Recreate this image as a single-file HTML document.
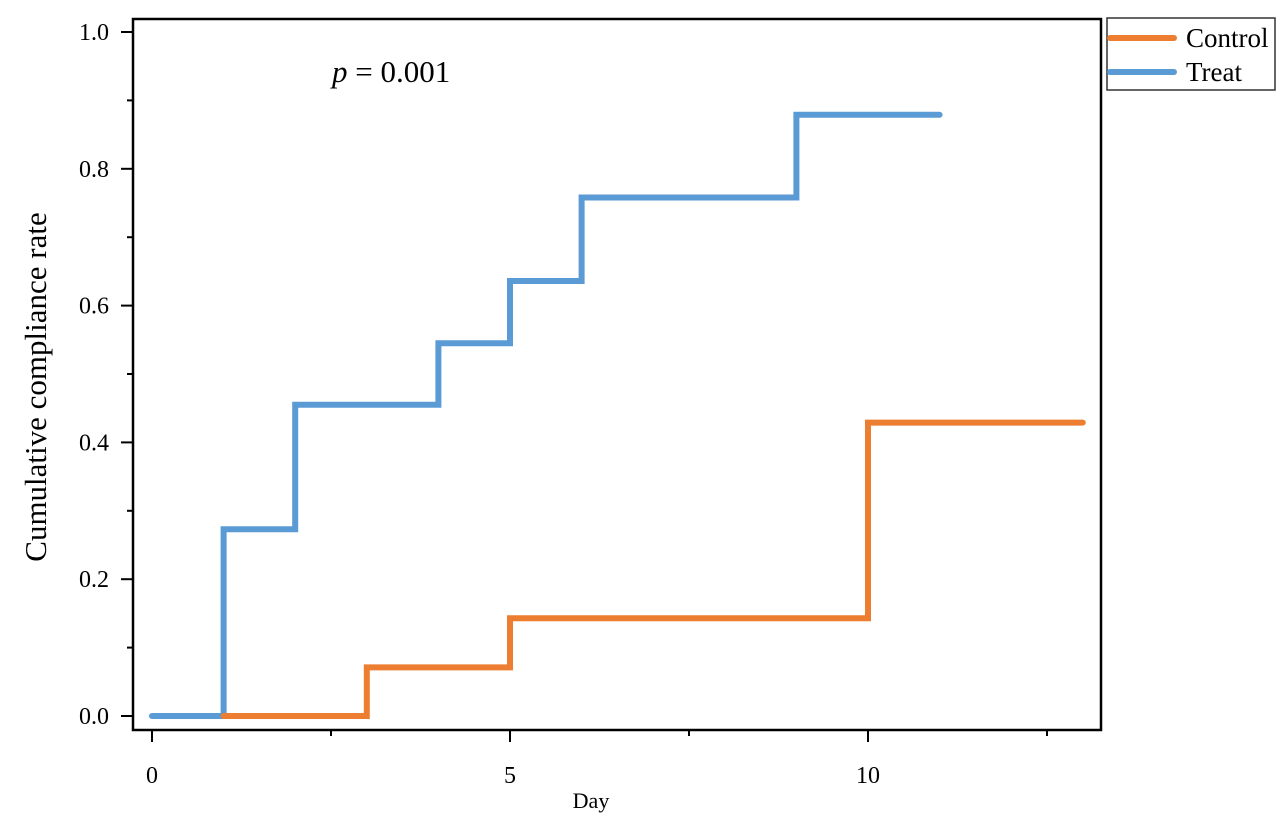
<!DOCTYPE html>
<html><head><meta charset="utf-8"><style>
body{margin:0;background:#fff}
svg{display:block;font-family:"Liberation Serif",serif}
</style></head><body>
<svg id="chart" width="1280" height="835" viewBox="0 0 1280 835">
<g id="axes"></g>
<g id="series"></g>
<text x="332" y="82" font-size="31"><tspan font-style="italic">p</tspan> = 0.001</text>
<text transform="translate(46,387) rotate(-90)" text-anchor="middle" font-size="31">Cumulative compliance rate</text>
<text x="591" y="808" text-anchor="middle" font-size="22">Day</text>
<g>
<rect x="1107" y="18" width="168" height="72" fill="#fff" stroke="#333" stroke-width="1.5"/>
<line x1="1110" y1="38" x2="1174" y2="38" stroke="#ed7d31" stroke-width="6" stroke-linecap="round"/>
<text x="1186" y="47" font-size="27">Control</text>
<line x1="1110" y1="72" x2="1174" y2="72" stroke="#5b9bd5" stroke-width="6" stroke-linecap="round"/>
<text x="1186" y="81" font-size="27">Treat</text>
</g>
</svg>
<script>
const treatDays=[0,1,2,4,5,6,9,11];
const treatValues=[0,0.273,0.455,0.545,0.636,0.758,0.879];
const controlDays=[1,3,5,10,13];
const controlValues=[0,0.071,0.143,0.429];
const xTicks=[0,5,10];
const yTicks=[0,0.2,0.4,0.6,0.8,1.0];
const yTickLabels=["0.0","0.2","0.4","0.6","0.8","1.0"];
const NS="http://www.w3.org/2000/svg";
const X=d=>152+d*71.6;
const Y=v=>716-v*684;
function mk(tag,attrs,parent){const e=document.createElementNS(NS,tag);for(const k in attrs)e.setAttribute(k,attrs[k]);parent.appendChild(e);return e;}
const ax=document.getElementById('axes');
const frame=mk('rect',{x:133,y:19,width:968,height:711,fill:'none',stroke:'#000','stroke-width':2.5},ax);


yTicks.forEach((v,i)=>{
 const t=mk('line',{x1:121,x2:133,y1:Y(v),y2:Y(v),stroke:'#000','stroke-width':2},ax);
 
 
 const l=mk('text',{x:109,y:Y(v)+8,'text-anchor':'end','font-size':24},ax);
 l.textContent=yTickLabels[i];
 
 
 if(i<yTicks.length-1){
  const m=mk('line',{x1:127,x2:133,y1:Y(v+0.1),y2:Y(v+0.1),stroke:'#000','stroke-width':2},ax);
  
  
 }
});
xTicks.forEach(d=>{
 const t=mk('line',{x1:X(d),x2:X(d),y1:730,y2:742,stroke:'#000','stroke-width':2},ax);
 
 
 const l=mk('text',{x:X(d),y:783,'text-anchor':'middle','font-size':24},ax);
 l.textContent=d;
 
 
});
[2.5,7.5,12.5].forEach(d=>{
 const m=mk('line',{x1:X(d),x2:X(d),y1:730,y2:736,stroke:'#000','stroke-width':2},ax);
 
 
});
function stepPath(days,vals){
 let d='M'+X(days[0])+','+Y(vals[0]);
 for(let i=1;i<days.length;i++){
  d+=' H'+X(days[i]);
  if(i<vals.length)d+=' V'+Y(vals[i]);
 }
 return d;
}
const sg=document.getElementById('series');
const tp=mk('path',{d:stepPath(treatDays,treatValues),fill:'none',stroke:'#5b9bd5','stroke-width':6,'stroke-linejoin':'miter','stroke-linecap':'round'},sg);


const cp=mk('path',{d:stepPath(controlDays,controlValues),fill:'none',stroke:'#ed7d31','stroke-width':6,'stroke-linejoin':'miter','stroke-linecap':'round'},sg);


</script>
</body></html>
